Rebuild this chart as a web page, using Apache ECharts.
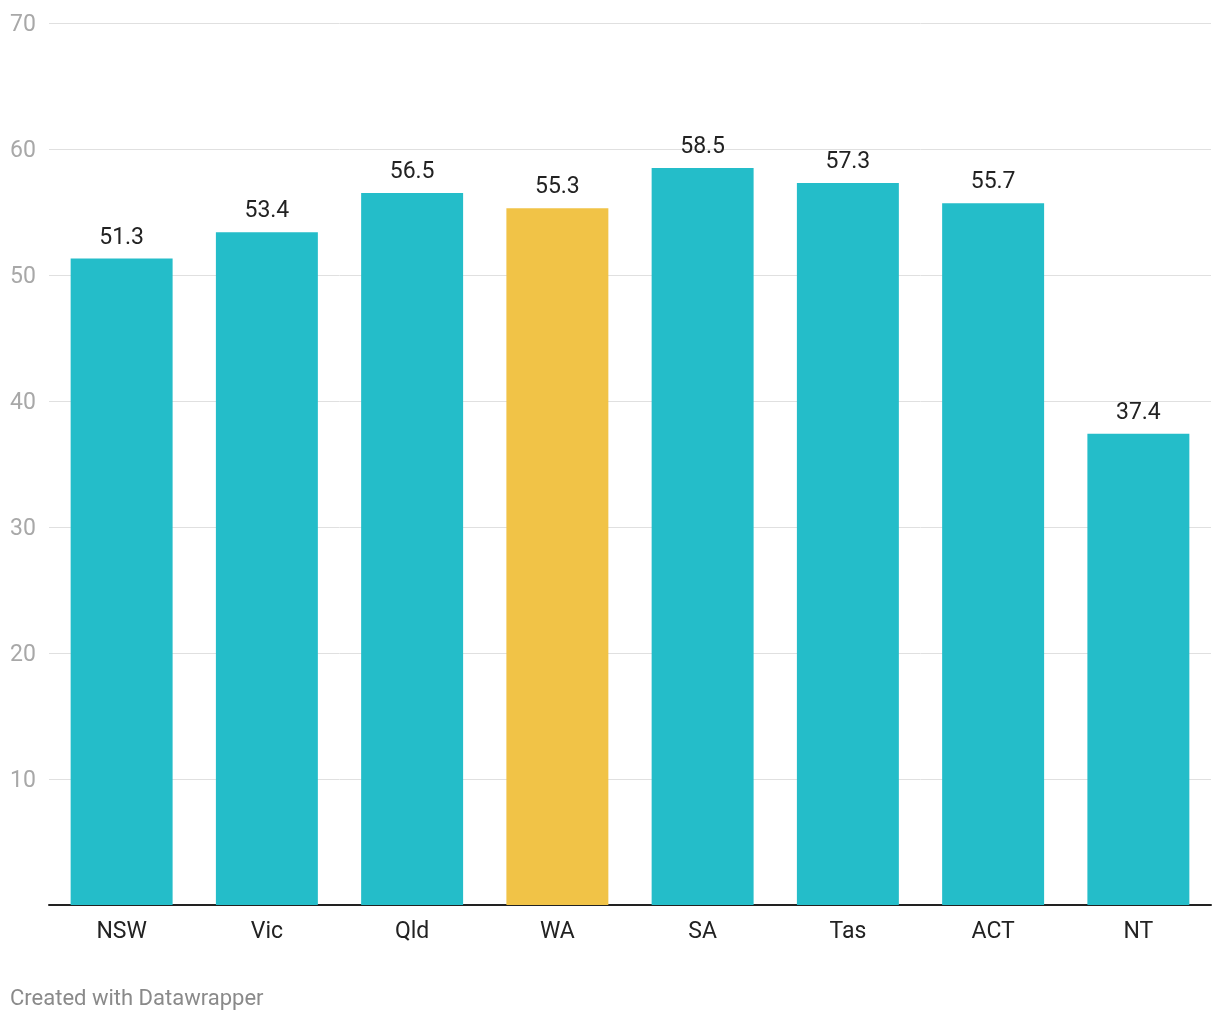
<!DOCTYPE html>
<html>
<head>
<meta charset="utf-8">
<script src="https://cdn.jsdelivr.net/npm/echarts@6/dist/echarts.min.js"></script>
<style>
html,body{margin:0;padding:0;background:#fff;}
#chart{width:1220px;height:1020px;}
</style>
</head>
<body>
<div id="chart"></div>
<script>
const categories = ['NSW','Vic','Qld','WA','SA','Tas','ACT','NT'];
const values = [51.3, 53.4, 56.5, 55.3, 58.5, 57.3, 55.7, 37.4];
const highlight = ['WA'];
const yTicks = [0,10,20,30,40,50,60,70];

const teal = '#24bdc9';
const yellow = '#f1c347';

const chart = echarts.init(document.getElementById('chart'));
chart.setOption({
  animation: false,
  textStyle: {fontFamily: 'Roboto'},
  grid: {left: 49, right: 9, top: 23, bottom: 115, containLabel: false},
  xAxis: {
    type: 'category',
    data: categories,
    axisLine: {lineStyle: {color: '#222', width: 2}},
    axisTick: {show: false},
    axisLabel: {color: '#222', fontSize: 23, margin: 16, fontFamily: 'Roboto'}
  },
  yAxis: {
    type: 'value',
    min: yTicks[0],
    max: yTicks[yTicks.length-1],
    interval: 10,
    axisLine: {show: false},
    axisTick: {show: false},
    splitLine: {lineStyle: {color: '#e0e0e0', width: 1}},
    axisLabel: {
      color: '#a8a8a8', fontSize: 23, align: 'left', margin: 39, fontFamily: 'Roboto',
      verticalAlign: 'top',
      lineHeight: 23,
      padding: [-9, 0, 0, 0],
      formatter: v => v === 0 ? '' : String(v)
    }
  },
  series: [{
    type: 'bar',
    barWidth: '70.2%',
    data: values.map((v,i) => ({
      value: v,
      itemStyle: {color: highlight.includes(categories[i]) ? yellow : teal}
    })),
    label: {
      show: true, position: 'top', distance: 9,
      color: '#222', fontSize: 23, fontFamily: 'Roboto',
      formatter: p => p.value.toFixed(1)
    }
  }],
  graphic: [{
    type: 'text', left: 10, top: 988,
    style: {text: 'Created with Datawrapper', fill: '#8a8a8a', fontSize: 22, fontFamily: 'Roboto'}
  }]
});
</script>
</body>
</html>
